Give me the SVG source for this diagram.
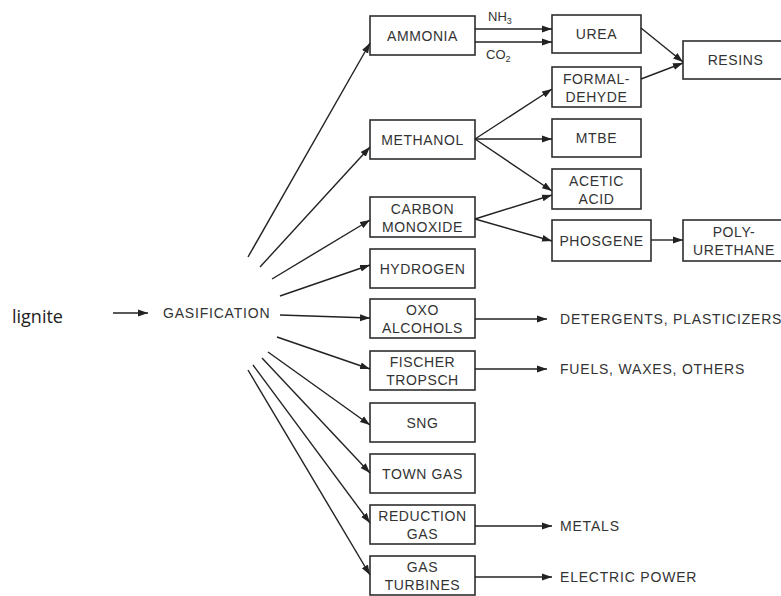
<svg xmlns="http://www.w3.org/2000/svg" width="781" height="596" viewBox="0 0 781 596">
<defs>
<marker id="ah" markerUnits="userSpaceOnUse" markerWidth="11" markerHeight="8" refX="10" refY="4" orient="auto">
<path d="M0,0.5 L10,4 L0,7.5 z" fill="#222"/>
</marker>
<style>
.box{fill:#fff;stroke:#2e2e2e;stroke-width:1.6}
.t{font-family:"Liberation Sans",Arial,sans-serif;font-size:14px;letter-spacing:0.6px;fill:#333;text-anchor:middle}
.l{font-family:"Liberation Sans",Arial,sans-serif;font-size:14px;letter-spacing:0.8px;fill:#333}
.s{font-family:"Liberation Sans",Arial,sans-serif;font-size:13px;fill:#333}
.c line{stroke:#222;stroke-width:1.4;marker-end:url(#ah)}
</style>
</defs>
<rect width="781" height="596" fill="#fff"/>

<text x="12" y="323" style="font-family:'Open Sans','Noto Sans',sans-serif;font-size:18px;fill:#222">lignite</text>

<g id="gasification"><text class="l" x="163" y="318">GASIFICATION</text></g>

<g id="ammonia"><rect class="box" x="370" y="16" width="105" height="39"/><text class="t" x="422.5" y="40.5">AMMONIA</text></g>
<g id="methanol"><rect class="box" x="370" y="120" width="105" height="39"/><text class="t" x="422.5" y="144.5">METHANOL</text></g>
<g id="carbon-monoxide"><rect class="box" x="370" y="197" width="105" height="40"/><text class="t" x="422.5" y="214">CARBON</text><text class="t" x="422.5" y="232">MONOXIDE</text></g>
<g id="hydrogen"><rect class="box" x="370" y="249" width="105" height="39"/><text class="t" x="422.5" y="273.5">HYDROGEN</text></g>
<g id="oxo-alcohols"><rect class="box" x="370" y="299" width="105" height="39"/><text class="t" x="422.5" y="315">OXO</text><text class="t" x="422.5" y="333">ALCOHOLS</text></g>
<g id="fischer-tropsch"><rect class="box" x="370" y="351" width="105" height="39"/><text class="t" x="422.5" y="367">FISCHER</text><text class="t" x="422.5" y="385">TROPSCH</text></g>
<g id="sng"><rect class="box" x="370" y="403" width="105" height="39"/><text class="t" x="422.5" y="427.5">SNG</text></g>
<g id="town-gas"><rect class="box" x="370" y="454" width="105" height="39"/><text class="t" x="422.5" y="478.5">TOWN GAS</text></g>
<g id="reduction-gas"><rect class="box" x="370" y="505" width="105" height="39"/><text class="t" x="422.5" y="521">REDUCTION</text><text class="t" x="422.5" y="539">GAS</text></g>
<g id="gas-turbines"><rect class="box" x="370" y="556" width="105" height="39"/><text class="t" x="422.5" y="572">GAS</text><text class="t" x="422.5" y="590">TURBINES</text></g>

<g id="urea"><rect class="box" x="552" y="15" width="89" height="38"/><text class="t" x="596.5" y="39">UREA</text></g>
<g id="formaldehyde"><rect class="box" x="552" y="67" width="89" height="40"/><text class="t" x="596.5" y="84">FORMAL-</text><text class="t" x="596.5" y="102">DEHYDE</text></g>
<g id="mtbe"><rect class="box" x="552" y="119" width="89" height="38"/><text class="t" x="596.5" y="143">MTBE</text></g>
<g id="acetic-acid"><rect class="box" x="552" y="169" width="89" height="40"/><text class="t" x="596.5" y="186">ACETIC</text><text class="t" x="596.5" y="204">ACID</text></g>
<g id="phosgene"><rect class="box" x="552" y="220" width="99" height="41"/><text class="t" x="601.5" y="245.5">PHOSGENE</text></g>
<g id="resins"><rect class="box" x="683" y="41" width="105" height="38"/><text class="t" x="735.5" y="65">RESINS</text></g>
<g id="polyurethane"><rect class="box" x="683" y="220" width="104" height="41"/><text class="t" x="734" y="237">POLY-</text><text class="t" x="734" y="255">URETHANE</text></g>

<g id="detergents"><text class="l" x="560" y="324">DETERGENTS, PLASTICIZERS</text></g>
<g id="fuels"><text class="l" x="560" y="374">FUELS, WAXES, OTHERS</text></g>
<g id="metals"><text class="l" x="560" y="531">METALS</text></g>
<g id="electric-power"><text class="l" x="560" y="582">ELECTRIC POWER</text></g>

<g id="labels">
<text class="s" x="488" y="21">NH<tspan font-size="9" dy="3">3</tspan></text>
<text class="s" x="486" y="59">CO<tspan font-size="9" dy="3">2</tspan></text>
</g>

<g id="connectors" class="c">
<line x1="113" y1="313" x2="148" y2="313"/>
<line x1="248" y1="257" x2="370" y2="43"/>
<line x1="260" y1="267" x2="370" y2="147"/>
<line x1="272" y1="279" x2="370" y2="220"/>
<line x1="280" y1="296" x2="370" y2="265"/>
<line x1="280" y1="315" x2="370" y2="318"/>
<line x1="277" y1="337" x2="370" y2="369"/>
<line x1="268" y1="352" x2="370" y2="425"/>
<line x1="262" y1="358" x2="370" y2="473"/>
<line x1="253" y1="365" x2="370" y2="523"/>
<line x1="248" y1="370" x2="370" y2="575"/>
<line x1="475" y1="29" x2="552" y2="29"/>
<line x1="475" y1="42" x2="552" y2="42"/>
<line x1="641" y1="28" x2="683" y2="62"/>
<line x1="641" y1="79" x2="683" y2="63"/>
<line x1="475" y1="139" x2="552" y2="89"/>
<line x1="475" y1="139" x2="552" y2="139"/>
<line x1="475" y1="139" x2="552" y2="191"/>
<line x1="475" y1="219" x2="552" y2="195"/>
<line x1="475" y1="219" x2="552" y2="241"/>
<line x1="651" y1="240" x2="683" y2="240"/>
<line x1="475" y1="319" x2="547" y2="319"/>
<line x1="475" y1="369" x2="547" y2="369"/>
<line x1="475" y1="526" x2="552" y2="526"/>
<line x1="475" y1="577" x2="552" y2="577"/>
</g>
</svg>
